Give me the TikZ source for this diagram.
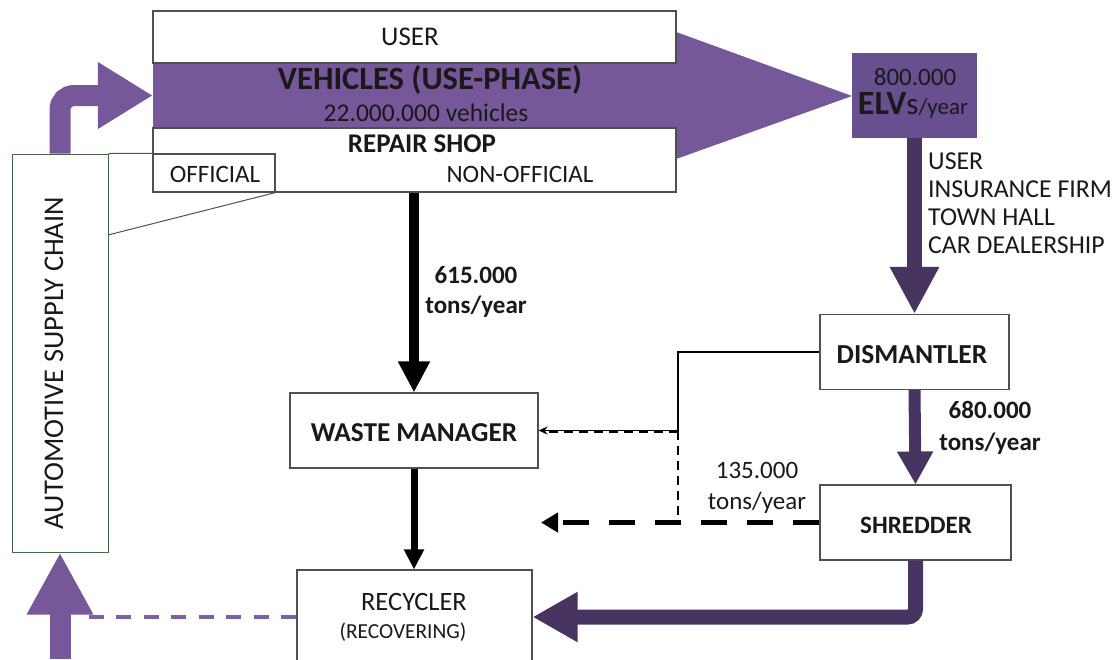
\documentclass[tikz,border=0pt]{standalone}
\usepackage{fontspec}
\setmainfont{Carlito}
\usetikzlibrary{arrows.meta,calc}
\definecolor{bandc}{RGB}{118,88,154}
\definecolor{elvc}{RGB}{104,80,144}
\definecolor{darkc}{RGB}{72,52,96}
\definecolor{lightc}{RGB}{125,95,165}
\definecolor{boxc}{RGB}{80,80,80}
\definecolor{ascc}{RGB}{70,100,70}
\definecolor{txtc}{RGB}{25,25,25}
\tikzset{
  box/.style={draw=boxc, line width=1.1pt, fill=white, inner sep=0pt},
  fs/.style={font=\fontsize{#1}{#1}\selectfont},
  fsb/.style={font=\fontsize{#1}{#1}\selectfont\bfseries},
  txt/.style={inner sep=0pt, text=txtc},
  fatlight/.style={draw=bandc, line width=21pt},
  fatdark/.style={draw=darkc},
  thinline/.style={draw=black, line width=1.3pt},
  thindash/.style={draw=black, line width=1.3pt, dash pattern=on 9pt off 6pt},
}
\begin{document}
\begin{tikzpicture}[x=1pt,y=-1pt]
\useasboundingbox (0,0) rectangle (1119,659);
% band and big arrow
\node[fill=bandc, minimum width=523pt, minimum height=65pt, inner sep=0pt] (band) at (414.5,95.5) {};
\fill[bandc] ([yshift=63.5pt]band.east) -- (852,96) -- ([yshift=-63.5pt]band.east) -- cycle;
% boxes
\node[box, minimum width=523pt, minimum height=52pt] (user) at (414.5,37) {};
\node[box, minimum width=523pt, minimum height=64pt] (repair) at (414.5,160) {};
\node[box, minimum width=122pt, minimum height=38pt] (official) at (214,173) {};
\node[fill=elvc, minimum width=125pt, minimum height=85pt, inner sep=0pt] (elv) at (914.5,95.5) {};
\node[box, minimum width=189pt, minimum height=75pt] (dism) at (914.5,352) {};
\node[box, minimum width=191pt, minimum height=75pt] (shred) at (915.5,522.5) {};
\node[box, minimum width=248pt, minimum height=75pt] (wm) at (414,430.5) {};
\node[box, minimum width=235pt, minimum height=94pt] (rec) at (414.5,617) {};
\node[draw=ascc, line width=1pt, fill=white, inner sep=0pt, minimum width=96pt, minimum height=398pt] (asc) at (60,353) {};
% callout lines
\draw[draw=boxc, line width=1pt] (asc.north east) -- (official.north west);
\draw[draw=boxc, line width=1pt] (official.south east) -- (108,235);
% texts
\node[txt, fs=27] (tuser) at (410,37) {USER};
\node[txt, fsb=32.5] (tveh) at (430,80) {VEHICLES (USE-PHASE)};
\node[txt, fs=25.5] (tveh2) at (426,113) {22.000.000 vehicles};
\node[txt, fsb=27] (trep) at (422,144) {REPAIR SHOP};
\node[txt, fs=25] (toff) at (215,174) {OFFICIAL};
\node[txt, fs=25] (tnon) at (520,174) {NON-OFFICIAL};
\node[txt, fs=25] (t800) at (915,77) {800.000};
\node[txt] (telv) at (913,105) {{\fontsize{34}{34}\selectfont\bfseries ELV}{\fontsize{31}{31}\selectfont s}{\fontsize{23}{23}\selectfont/year}};
\node[txt, anchor=west, align=left, font=\fontsize{25.8}{28}\selectfont] (tlist) at (928,203) {USER\\INSURANCE FIRM\\TOWN HALL\\CAR DEALERSHIP};
\node[txt, fsb=27.5] (tdism) at (912,355) {DISMANTLER};
\node[txt, fsb=25] (tshred) at (916,525) {SHREDDER};
\node[txt, fsb=27.3] (twm) at (414,433) {WASTE MANAGER};
\node[txt, fs=26.5] (trec) at (414,602) {RECYCLER};
\node[txt, fs=21.4] (treco) at (403,632) {(RECOVERING)};
\node[txt, fs=28.5, rotate=90] (tasc) at (54,363) {AUTOMOTIVE SUPPLY CHAIN};
\node[txt, align=center, font=\fontsize{25}{30}\selectfont\bfseries] (t615) at (476,292) {615.000\\tons/year};
\node[txt, align=center, font=\fontsize{25}{32}\selectfont\bfseries] (t680) at (990,428) {680.000\\tons/year};
\node[txt, align=center, font=\fontsize{25}{31}\selectfont] (t135) at (757,488) {135.000\\tons/year};
% coordinates
\coordinate (j1) at (678,430.5);
\coordinate (j2) at (678,522.5);
\coordinate (j3) at (541,522.5);
\coordinate (j4) at (88,617);
\coordinate (src) at (60,659);
% connectors
\draw[fatlight, rounded corners=14pt, -{Triangle[length=55pt,width=63pt]}] (asc.north) |- (band.west);
\draw[fatlight, -{Triangle[length=62pt,width=62pt]}] (src) -- (asc.south);
\draw[draw=lightc, line width=4pt, dash pattern=on 15pt off 12.5pt] (rec.west) -- (j4);
\draw[fatdark, line width=15pt, -{Triangle[length=47pt,width=46pt]}] (elv.south) -- (dism.north);
\draw[fatdark, line width=12pt, -{Triangle[length=33pt,width=34pt]}] (dism.south) -- (shred.north);
\draw[fatdark, line width=15pt, rounded corners=8pt, -{Triangle[length=45pt,width=47pt]}] (shred.south) |- (rec.east);
\draw[draw=black, line width=10pt, -{Triangle[length=31pt,width=30pt]}] (repair.south -| wm.north) -- (wm.north);
\draw[draw=black, line width=7pt, -{Triangle[length=20pt,width=19pt]}] (wm.south) -- (rec.north -| wm.south);
\draw[thinline, -{Stealth[length=9pt,width=8pt]}] (dism.west) -| (j1) -- (wm.east);
\draw[thindash] ([yshift=-1.5pt]j1) -- ([yshift=-1.5pt, xshift=10pt]wm.east);
\draw[thindash] (j1) -- (j2);
\draw[draw=black, line width=5.5pt, dash pattern=on 26pt off 20pt, -{Triangle[length=17pt,width=19pt]}] (shred.west) -- (j3);
\end{tikzpicture}
\end{document}
